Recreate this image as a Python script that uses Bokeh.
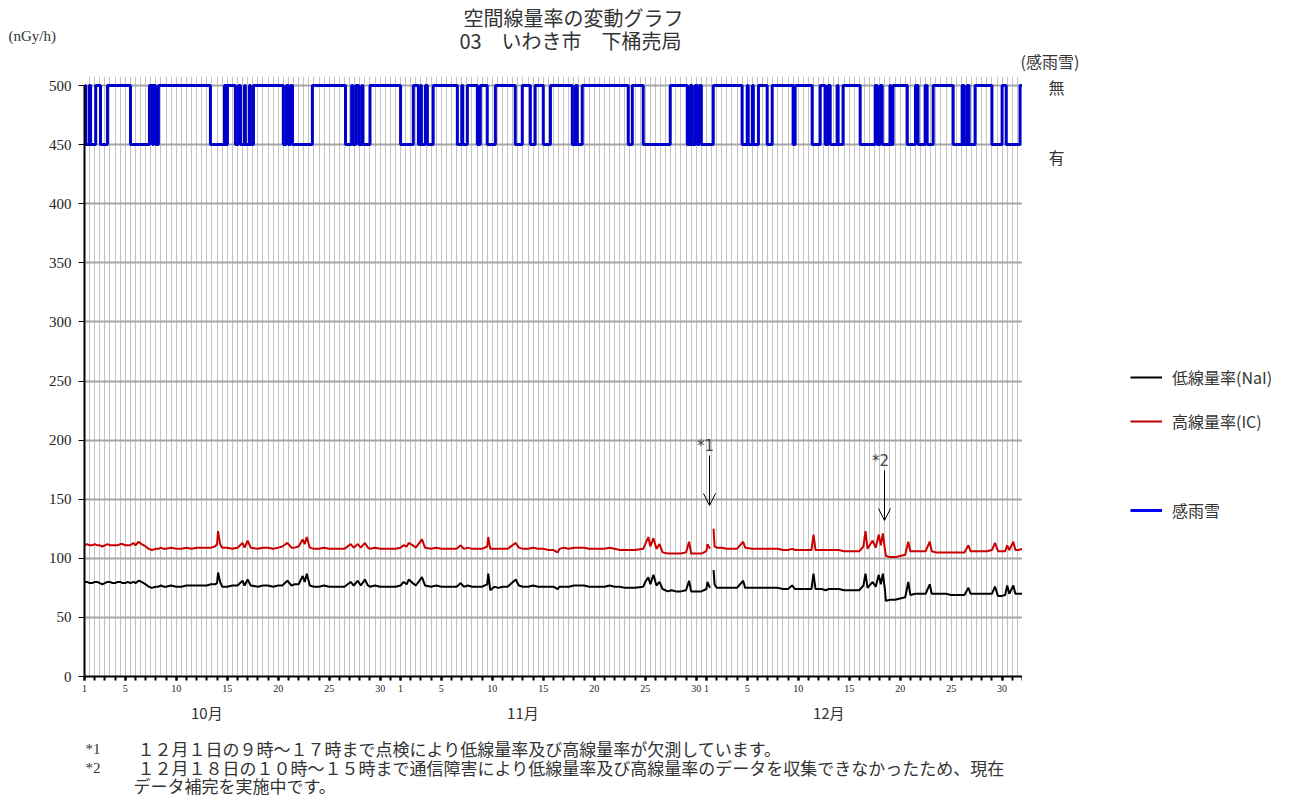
from bokeh.plotting import figure
from bokeh.layouts import column, row
from bokeh.models import (Range1d, FixedTicker, Arrow, OpenHead, Legend, LegendItem,
                          LinearAxis, Label)
from bokeh.core.properties import value
from bokeh.embed import file_html
from bokeh.resources import INLINE

# ---------------- data ----------------
months = ["10月", "11月", "12月"]
month_days = [31, 30, 31]
labeled_days = [1, 5, 10, 15, 20, 25, 30]
y_ticks = [0, 50, 100, 150, 200, 250, 300, 350, 400, 450, 500]
y_rain_no = 500
y_rain_yes = 450

# time in days from Oct 1 00:00
t = [0.0, 0.5, 1.0, 1.5, 2.0, 2.5, 3.0, 3.5, 4.0, 4.5, 4.8, 5.0, 5.3, 5.6, 6.0, 6.3,
     7.0, 7.5, 8.0, 9.0, 10.0, 11.0, 12.0, 12.8, 13.0, 13.1, 13.3, 13.5, 14.0, 15.0,
     15.5, 15.7, 16.0, 16.3, 17.0, 18.0, 19.0, 19.9, 20.3, 21.0, 21.4, 21.6, 21.8,
     22.1, 23.0, 24.0, 25.0, 26.1, 26.4, 26.8, 27.1, 27.5, 27.8, 29.0, 30.0, 31.0,
     31.3, 31.6, 31.8, 32.2, 32.5, 33.1, 33.4, 34.0, 35.0, 36.0, 36.9, 37.2, 38.0,
     39.0, 39.5, 39.6, 39.8, 40.2, 41.0, 42.3, 42.6, 43.5, 44.5, 45.5, 46.0, 46.4,
     46.6, 47.0, 48.0, 49.0, 50.0, 51.0, 52.0, 53.0, 54.0, 54.8, 55.0, 55.3, 55.5,
     55.8, 56.1, 56.4, 56.7, 57.2, 58.0, 59.0, 59.3, 59.5, 60.5, 61.0, 61.1, 61.35,
     61.5, 61.7, 61.8, 62.5, 63.5, 64.6, 64.8, 66.0, 67.0, 68.0, 69.0, 69.4, 69.7,
     70.5, 71.3, 71.5, 71.7, 73.0, 74.0, 75.0, 76.0, 76.4, 76.6, 76.8, 77.3, 77.6,
     77.9, 78.1, 78.3, 78.5, 78.6, 79.5, 80.5, 80.8, 81.0, 82.0, 82.9, 83.1, 84.0,
     85.0, 86.0, 86.7, 86.9, 88.0, 89.0, 89.3, 89.6, 90.3, 90.5, 90.7, 91.1, 91.3,
     92.0]
nan = float("nan")
low = [80, 79, 80, 79, 79, 80, 79, 80, 79, 79, 80, 79, 81, 80, 78, 76,
       76, 77, 76, 76, 77, 77, 77, 78, 79, 88, 80, 76, 76, 77,
       81, 77, 82, 77, 76, 77, 77, 81, 77, 78, 85, 80, 87,
       77, 76, 76, 76, 80, 77, 81, 77, 82, 77, 76, 76, 77,
       80, 78, 82, 79, 77, 84, 77, 76, 76, 76, 79, 76, 76,
       76, 78, 87, 73, 76, 76, 82, 77, 76, 76, 76, 76, 74,
       76, 76, 77, 77, 76, 76, 76, 75, 75, 76, 80, 84, 78,
       86, 77, 80, 74, 72, 72, 73, 81, 72, 72, 74, 80, 75,
       nan, 90, 78, 75, 75, 81, 75, 75, 75, 75, 74, 77, 74,
       74, 74, 87, 74, 74, 74, 73, 73, 77, 87, 75, 80, 76,
       86, 78, 87, 74, 64, 65, 67, 80, 69, 70, 78, 70, 70,
       69, 69, 75, 70, 70, 70, 76, 68, 69, 77, 70, 77, 70,
       70]
high = [111, 111, 112, 111, 111, 111, 111, 112, 111, 111, 113, 111, 114, 112, 110, 108,
        108, 109, 108, 108, 109, 109, 109, 110, 112, 123, 112, 109, 109, 109,
        113, 109, 115, 109, 108, 109, 109, 113, 109, 110, 116, 112, 118,
        109, 108, 108, 108, 112, 109, 112, 109, 113, 109, 108, 108, 109,
        111, 110, 113, 111, 109, 116, 109, 108, 108, 108, 111, 108, 108,
        108, 110, 118, 108, 108, 108, 113, 109, 108, 108, 107, 107, 105,
        108, 109, 109, 109, 108, 108, 108, 107, 107, 108, 112, 118, 110,
        117, 108, 112, 105, 104, 104, 105, 114, 104, 104, 106, 112, 108,
        nan, 125, 110, 109, 108, 114, 109, 108, 108, 108, 107, 108, 107,
        107, 107, 120, 107, 107, 107, 106, 106, 110, 123, 108, 115, 109,
        120, 111, 121, 108, 102, 101, 103, 114, 106, 106, 114, 106, 105,
        105, 105, 111, 106, 106, 107, 113, 106, 106, 111, 107, 114, 107,
        108]

# extra readings between the ones above (small fluctuations)
t_extra = [0.25, 0.75, 1.25, 1.75, 2.25, 2.75, 3.25, 3.75, 4.25, 6.6, 7.25, 7.75, 8.5,
           9.5, 10.5, 11.5, 12.4, 14.5, 17.5, 18.5, 19.4, 20.6, 22.5, 23.5, 24.5, 25.5,
           28.0, 28.5, 29.5, 30.5, 34.5, 35.5, 36.5, 37.6, 38.5, 40.6, 41.5, 43.0, 44.0,
           45.0, 47.5, 48.5, 49.5, 50.5, 51.5, 52.5, 53.5, 57.6, 58.5, 60.0, 62.0, 63.0,
           64.0, 65.5, 66.5, 67.5, 68.5, 70.0, 72.3, 72.7, 73.5, 74.5, 75.5, 79.0, 80.0,
           81.5, 82.5, 83.5, 84.5, 85.5, 86.3, 87.5, 88.5, 89.9, 91.6]
low_extra = [80, 79, 80, 78, 80, 79, 80, 79, 80, 75, 76, 76, 77,
             76, 77, 77, 78, 77, 77, 76, 77, 78, 76, 77, 76, 76,
             76, 77, 76, 76, 77, 76, 76, 77, 76, 75, 76, 76, 77,
             76, 76, 77, 76, 76, 77, 76, 75, 73, 72, 72, 75, 75,
             75, 75, 75, 75, 74, 74, 74, 73, 74, 73, 73, 65, 66,
             70, 70, 70, 70, 69, 69, 70, 70, 68, 70]
high_extra = [112, 111, 111, 110, 112, 111, 111, 112, 111, 107, 108, 108, 109,
              108, 108, 109, 109, 108, 109, 108, 110, 109, 108, 109, 108, 108,
              108, 109, 108, 108, 109, 108, 108, 109, 108, 108, 108, 108, 109,
              108, 108, 109, 108, 108, 109, 107, 107, 104, 104, 104, 109, 108,
              108, 108, 108, 108, 107, 107, 107, 107, 107, 106, 106, 101, 102,
              106, 106, 105, 105, 105, 105, 106, 106, 106, 107]

# rain / snow detected intervals (days from Oct 1)
rain_start = [0.1, 0.6, 1.57, 4.51, 6.67, 6.96, 12.35, 13.92, 14.8, 15.3, 15.78, 16.27,
              19.5, 20.0, 20.4, 25.6, 26.3, 26.9, 27.3, 31.0, 32.75, 33.04, 33.63,
              36.57, 37.1, 38.53, 39.5, 42.25, 43.73, 45.0, 47.84, 48.33, 53.33, 54.8,
              59.12, 59.6, 60.1, 60.5, 64.5, 65.1, 65.6, 66.96, 69.5, 71.37, 72.65,
              73.14, 73.92, 76.08, 77.75, 78.24, 79.1, 80.7, 81.76, 82.65, 85.2, 86.27,
              86.76, 89.0, 90.4]
rain_end = [0.45, 1.1, 2.25, 6.37, 6.76, 7.25, 13.73, 14.02, 15.1, 15.69, 16.18, 16.57,
            19.8, 20.2, 22.35, 26.2, 26.6, 27.2, 28.0, 32.25, 32.94, 33.43, 34.2,
            37.0, 37.55, 38.82, 40.3, 42.94, 44.2, 45.7, 48.14, 48.82, 53.73, 57.45,
            59.41, 59.9, 60.3, 61.67, 65.0, 65.5, 66.1, 67.45, 69.7, 72.16, 72.94,
            73.82, 74.4, 77.55, 78.04, 79.0, 79.3, 81.5, 82.45, 83.24, 86.08, 86.57,
            87.35, 90.0, 91.76]

# ---------------- build ----------------
total_days = sum(month_days)
merged = sorted(zip(t + t_extra, low + low_extra, high + high_extra), key=lambda r: r[0])
t_all = [r[0] for r in merged]
low_all = [r[1] for r in merged]
high_all = [r[2] for r in merged]

rx, ry = [0.0], [y_rain_no]
for s, e in zip(rain_start, rain_end):
    rx += [s, s, e, e]
    ry += [y_rain_no, y_rain_yes, y_rain_yes, y_rain_no]
rx.append(total_days)
ry.append(y_rain_no)

JP = "Noto Sans CJK JP"
SERIF = "Liberation Serif"
TXT = "#333333"

W_TOTAL = 1280
TOP_H = 76
MAIN_LEFT = 84
FW = 938
PX_Y = 591 / 500.0
FRAME_BOTTOM = 676
FH = FRAME_BOTTOM - TOP_H
Y_TOP = FH / PX_Y
MAIN_BOTTOM_BORDER = 52
MAIN_H = FH + MAIN_BOTTOM_BORDER
MAIN_W = MAIN_LEFT + FW
RIGHT_W = W_TOTAL - MAIN_W
BOTTOM_TOP = TOP_H + MAIN_H
BOTTOM_H = 798 - BOTTOM_TOP


def text_panel(w, h, y_top):
    f = figure(width=w, height=h, x_range=Range1d(0, w), y_range=Range1d(y_top + h, y_top),
               output_backend="svg", toolbar_location=None,
               min_border=0, x_axis_type=None, y_axis_type=None)
    f.outline_line_color = None
    f.xgrid.visible = False
    f.ygrid.visible = False
    return f


def txt(f, x, y, s, size="16px", font=JP, align="left", color=TXT):
    f.text(x=[x], y=[y], text=[s], text_font=value(font), text_font_size=value(size),
           text_align=align, text_baseline="middle", text_color=color)


# ---- top texts ----
top = text_panel(W_TOTAL, TOP_H, 0)
txt(top, 573, 17, "空間線量率の変動グラフ", size="20px", align="center")
txt(top, 570, 40, "03\u3000いわき市\u3000下桶売局", size="20px", align="center")
txt(top, 8, 35, "(nGy/h)", size="15px", font=SERIF)
txt(top, 1020, 60, "(感雨雪)", size="16px")

# ---- main chart ----
p = figure(frame_width=FW, frame_height=FH,
           x_range=Range1d(0, total_days), y_range=Range1d(0, Y_TOP),
           output_backend="svg", toolbar_location=None,
           min_border_left=MAIN_LEFT, min_border_right=0,
           min_border_top=0, min_border_bottom=MAIN_BOTTOM_BORDER)
p.outline_line_color = None

tick_pos, overrides, minor, month_mid, month_over = [], {}, [], [], {}
start = 0
for m, md in zip(months, month_days):
    for d in labeled_days:
        if d <= md:
            tick_pos.append(start + d - 1)
            overrides[start + d - 1] = str(d)
    minor += list(range(start, start + md))
    month_mid.append(start + 12)
    month_over[start + 12] = m
    start += md
minor.append(total_days)

p.xaxis.ticker = FixedTicker(ticks=tick_pos, minor_ticks=minor)
p.xaxis.major_label_overrides = overrides
p.xaxis.major_label_text_font = SERIF
p.xaxis.major_label_text_font_size = "10px"
p.xaxis.major_label_text_color = "#222222"
p.xaxis.major_tick_out = 4
p.xaxis.major_tick_in = 0
p.xaxis.minor_tick_out = 4
p.xaxis.minor_tick_in = 0
p.xaxis.axis_line_width = 2
p.xaxis.major_tick_line_width = 2
p.xaxis.minor_tick_line_width = 2
p.xaxis.major_label_standoff = 4

month_axis = LinearAxis(ticker=FixedTicker(ticks=month_mid, minor_ticks=[]),
                        major_label_overrides=month_over,
                        axis_line_color=None, major_tick_line_color=None,
                        major_label_text_font=JP, major_label_text_font_size="15px",
                        major_label_text_color=TXT, major_label_standoff=1)
p.add_layout(month_axis, "below")

p.yaxis.ticker = FixedTicker(ticks=y_ticks, minor_ticks=[])
p.yaxis.bounds = (0, 500)
p.yaxis.major_label_text_font = SERIF
p.yaxis.major_label_text_font_size = "15px"
p.yaxis.major_label_text_color = "#222222"
p.yaxis.major_tick_out = 6
p.yaxis.major_tick_in = 0
p.yaxis.axis_line_width = 2
p.yaxis.major_tick_line_width = 1
p.yaxis.major_label_standoff = 7

p.xgrid.ticker = FixedTicker(ticks=[i * 0.5 for i in range(2 * total_days + 1)])
p.xgrid.bounds = (0, total_days)
p.xgrid.grid_line_color = "#c4c4c4"
p.xgrid.grid_line_width = 1
p.ygrid.grid_line_color = "#a6a6a6"
p.ygrid.grid_line_width = 2

r_rain = p.line(rx, ry, line_color="#0000cc", line_width=3)
r_high = p.line(t_all, high_all, line_color="#cc0000", line_width=2)
r_low = p.line(t_all, low_all, line_color="#000000", line_width=2)


def dx(page_x):
    return (page_x - MAIN_LEFT) / (FW / total_days)


def dy(page_y):
    return (FRAME_BOTTOM - page_y) / PX_Y


p.add_layout(Label(x=dx(705), y=dy(445), text="*1", text_font="DejaVu Sans",
                   text_font_size="15px", text_align="center", text_baseline="middle"))
p.add_layout(Label(x=dx(880), y=dy(460), text="*2", text_font="DejaVu Sans",
                   text_font_size="15px", text_align="center", text_baseline="middle"))
for ax, ys, ye in ((709, 455, 505), (884, 470, 520)):
    p.add_layout(Arrow(end=OpenHead(size=12, line_width=1, line_color="black"),
                       x_start=dx(ax), y_start=dy(ys), x_end=dx(ax), y_end=dy(ye),
                       line_width=1, line_color="black"))

# ---- right side: rain labels + legend ----
rf = figure(frame_width=RIGHT_W, frame_height=FH,
            x_range=Range1d(MAIN_W, W_TOTAL), y_range=Range1d(FRAME_BOTTOM, TOP_H),
            output_backend="svg", toolbar_location=None,
            min_border_left=0, min_border_right=0, min_border_top=0,
            min_border_bottom=MAIN_BOTTOM_BORDER, x_axis_type=None, y_axis_type=None)
rf.outline_line_color = None
rf.xgrid.visible = False
rf.ygrid.visible = False
txt(rf, 1048, 86, "無", size="16px")
txt(rf, 1048, 156, "有", size="16px")
l_low = rf.line(x=[nan], y=[nan], line_color="#000000", line_width=2)
l_high = rf.line(x=[nan], y=[nan], line_color="#c00000", line_width=2)
l_rain = rf.line(x=[nan], y=[nan], line_color="#0000ff", line_width=3)
leg1 = Legend(items=[LegendItem(label="低線量率(NaI)", renderers=[l_low]),
                     LegendItem(label="高線量率(IC)", renderers=[l_high])],
              location=(1130 - MAIN_W, FRAME_BOTTOM - 433))
leg2 = Legend(items=[LegendItem(label="感雨雪", renderers=[l_rain])],
              location=(1130 - MAIN_W, FRAME_BOTTOM - 522))
for lg in (leg1, leg2):
    lg.padding = 0
    lg.margin = 0
    lg.spacing = 20
    lg.glyph_width = 32
    lg.glyph_height = 20
    lg.label_height = 20
    lg.label_standoff = 10
    lg.border_line_color = None
    lg.background_fill_alpha = 0
    lg.label_text_font = JP
    lg.label_text_font_size = "16px"
    lg.label_text_color = TXT
    rf.add_layout(lg, "center")

# ---- bottom notes ----
bt = text_panel(W_TOTAL, BOTTOM_H, BOTTOM_TOP)
txt(bt, 85, 748, "*1", size="15px", font=SERIF)
txt(bt, 137, 748, "１２月１日の９時～１７時まで点検により低線量率及び高線量率が欠測しています。", size="17px")
txt(bt, 85, 767, "*2", size="15px", font=SERIF)
txt(bt, 137, 767, "１２月１８日の１０時～１５時まで通信障害により低線量率及び高線量率のデータを収集できなかったため、現在", size="17px")
txt(bt, 133, 785, "データ補完を実施中です。", size="17px")

layout = column(top, row(p, rf, spacing=0), bt, spacing=0)
open("out.html", "w").write(file_html(layout, INLINE))
